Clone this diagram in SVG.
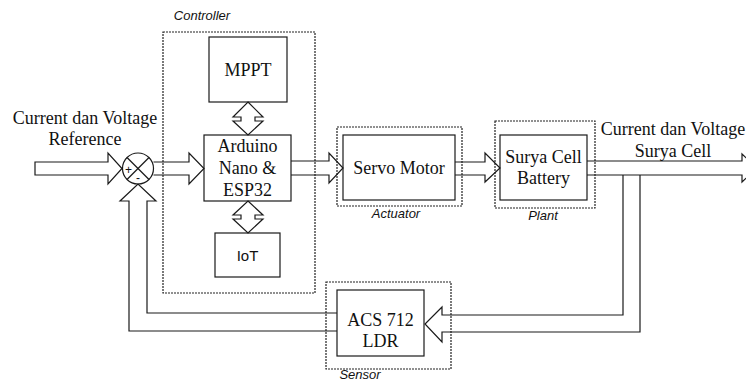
<svg xmlns="http://www.w3.org/2000/svg" width="746" height="381" viewBox="0 0 746 381">
<style>
.box{fill:#fff;stroke:#1a1a1a;stroke-width:1.2}
.dash{fill:none;stroke:#222;stroke-width:1.2;stroke-dasharray:2,1}
.ln{fill:none;stroke:#1a1a1a;stroke-width:1.2;stroke-linejoin:miter}
.t{font-family:"Liberation Serif","Times New Roman",serif;font-size:18px;fill:#111;text-anchor:middle}
.s{font-family:"Liberation Sans",Arial,sans-serif;font-size:15px;fill:#111;text-anchor:middle}
.i{font-family:"Liberation Sans",Arial,sans-serif;font-size:13px;font-style:italic;fill:#111;text-anchor:middle}
</style>
<rect width="746" height="381" fill="#fff"/>
<g id="labels">
<text class="t" x="85" y="124">Current dan Voltage</text>
<text class="t" x="85" y="145">Reference</text>
<text class="t" x="673" y="135">Current dan Voltage</text>
<text class="t" x="673" y="157">Surya Cell</text>
</g>
<g id="controller">
<rect class="dash" x="163" y="32" width="152" height="261"/>
<text class="i" x="202" y="20">Controller</text>
</g>
<g id="mppt">
<rect class="box" x="209" y="37" width="78" height="65"/>
<text class="t" x="248" y="76">MPPT</text>
</g>
<g id="arduino">
<rect class="box" x="204" y="135" width="87" height="66"/>
<text class="t" x="247.5" y="152">Arduino</text>
<text class="t" x="247.5" y="174">Nano &amp;</text>
<text class="t" x="247.5" y="196">ESP32</text>
</g>
<g id="iot">
<rect class="box" x="215" y="233" width="65" height="44"/>
<text class="s" x="247.5" y="261">IoT</text>
</g>
<g id="actuator">
<rect class="dash" x="337" y="127" width="125" height="79"/>
<rect class="box" x="343" y="135" width="112" height="65"/>
<text class="t" x="399" y="174">Servo Motor</text>
<text class="i" x="396" y="218">Actuator</text>
</g>
<g id="plant">
<rect class="dash" x="495" y="121" width="100" height="87"/>
<rect class="box" x="500" y="135" width="87" height="65"/>
<text class="t" x="543.5" y="163">Surya Cell</text>
<text class="t" x="543.5" y="184">Battery</text>
<text class="i" x="543" y="220">Plant</text>
</g>
<g id="sensor">
<rect class="dash" x="326" y="282" width="125" height="87"/>
<rect class="box" x="337" y="290" width="87" height="66"/>
<text class="t" x="380.5" y="326">ACS 712</text>
<text class="t" x="380.5" y="347">LDR</text>
<text class="i" x="360" y="379">Sensor</text>
</g>
<g id="sum">
<circle class="ln" cx="138" cy="168.5" r="15.5" fill="#fff"/>
<line class="ln" x1="127" y1="157.5" x2="149" y2="179.5"/>
<line class="ln" x1="149" y1="157.5" x2="127" y2="179.5"/>
<text class="s" x="128.5" y="174" style="font-size:12px">+</text>
<text class="s" x="138" y="182" style="font-size:12px">-</text>
</g>
<g id="connectors">
<polygon class="ln" points="35,162 108,162 108,153 122,168.5 108,184 108,175 35,175"/>
<polyline class="ln" points="153.5,162 189,162 189,153 204,168.5 189,184 189,175 153.5,175"/>
<polyline class="ln" points="291,161 329,161 329,153 343,168 329,183 329,175 291,175"/>
<polyline class="ln" points="455,162 485,162 485,153 500,168 485,182 485,175 455,175"/>
<polyline class="ln" points="587,161 742,161 742,154 757,168"/>
<polyline class="ln" points="587,175 742,175 742,182 757,168"/>
<polyline class="ln" points="623,175 623,315 442,315 442,307 425,324 442,342 442,332 640,332 640,175"/>
<polyline class="ln" points="337,313 147,313 147,201 156,201 138,184 120,201 129,201 129,331 337,331"/>
<polygon class="ln" points="248,102 263,117 255,117 255,121 263,121 248,135 233,121 241,121 241,117 233,117"/>
<polygon class="ln" points="248,201 263,215 255,215 255,219 263,219 248,233 233,219 241,219 241,215 233,215"/>
</g>
</svg>
